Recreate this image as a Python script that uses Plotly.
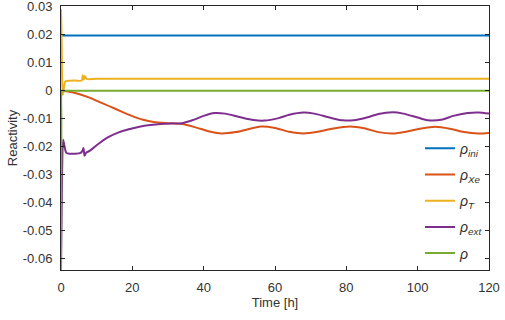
import plotly.graph_objects as go

# ---- data ----
t_ini = [0, 120]
rho_ini = [0.0197, 0.0197]

t_xe = [0, 2, 5, 8, 11, 14, 17, 20, 23, 26, 30, 34, 38, 42, 45, 49, 53, 56, 60, 64, 68, 72, 76,
        81, 85, 89, 93, 97, 101, 105, 109, 113, 117, 120]
rho_xe = [0, -0.0003, -0.0012, -0.0025, -0.0042, -0.0058, -0.0075, -0.0091, -0.0104, -0.0112,
          -0.0116, -0.0119, -0.0132, -0.0147, -0.0153, -0.0148, -0.0136, -0.0128, -0.0133, -0.0147,
          -0.0153, -0.0147, -0.0136, -0.0128, -0.0134, -0.0148, -0.0153, -0.0146, -0.0135, -0.0129,
          -0.0136, -0.0148, -0.0153, -0.0151]

t_T = [0, 0.15, 0.3, 0.5, 0.8, 1.2, 2, 4, 5.8, 6.1, 6.4, 6.7, 7.2, 10, 20, 120]
rho_T = [0.029, 0.020, 0.005, -0.0015, 0.001, 0.0033, 0.0035, 0.0036, 0.0036, 0.0055, 0.0040,
         0.0052, 0.0042, 0.0042, 0.0042, 0.0042]

t_ext = [0, 0.3, 0.6, 1.0, 1.5, 2.5, 4, 5.5, 6.0, 6.3, 6.6, 7, 8, 10, 13, 16, 19, 22, 25, 28, 31,
         34, 37, 40, 43, 46, 50, 54, 57, 61, 64, 68, 71, 75, 79, 82, 86, 89, 93, 96, 100, 103, 107,
         110, 114, 117, 120]
rho_ext = [-0.064, -0.030, -0.0175, -0.020, -0.0222, -0.0225, -0.0225, -0.0222, -0.0215, -0.0205,
           -0.0232, -0.0222, -0.0215, -0.0195, -0.0168, -0.0150, -0.0138, -0.0129, -0.0123, -0.0119,
           -0.0117, -0.0116, -0.0105, -0.0090, -0.0080, -0.0082, -0.0094, -0.0105, -0.0107, -0.0098,
           -0.0086, -0.0078, -0.0082, -0.0095, -0.0106, -0.0106, -0.0095, -0.0083, -0.0077, -0.0082,
           -0.0096, -0.0106, -0.0103, -0.0090, -0.0080, -0.0078, -0.0082]

t_tot = [0, 0.1, 0.3, 1, 120]
rho_tot = [-0.064, -0.010, 0.0, 0.0, 0.0]

x_ticks = [0, 20, 40, 60, 80, 100, 120]
y_ticks = [0.03, 0.02, 0.01, 0, -0.01, -0.02, -0.03, -0.04, -0.05, -0.06]
y_ticktext = ["0.03", "0.02", "0.01", "0", "-0.01", "-0.02", "-0.03", "-0.04", "-0.05", "-0.06"]

series = [
    (t_ini, rho_ini, "<i>ρ</i><sub><i>ini</i></sub>", "#0072BD"),
    (t_xe, rho_xe, "<i>ρ</i><sub><i>Xe</i></sub>", "#D95319"),
    (t_T, rho_T, "<i>ρ</i><sub><i>T</i></sub>", "#EDB120"),
    (t_ext, rho_ext, "<i>ρ</i><sub><i>ext</i></sub>", "#7E2F8E"),
    (t_tot, rho_tot, "<i>ρ</i>", "#77AC30"),
]

fig = go.Figure()
for i, (x, y, name, c) in enumerate(series):
    fig.add_trace(go.Scatter(x=x, y=y, name=name, mode="lines", legendgroup=f"g{i}",
                             line=dict(color=c, width=2, shape="spline", smoothing=0.8)))

txtcol = "#333333"
axcommon = dict(showline=True, linecolor="#262626", linewidth=1, mirror="allticks",
                ticks="inside", ticklen=4, tickcolor="#262626", showgrid=False, zeroline=False,
                automargin=False, ticklabeloverflow="allow",
                tickfont=dict(family="Liberation Sans, Arial", size=13, color=txtcol))

fig.update_layout(
    width=505, height=320,
    margin=dict(l=61, r=16, t=6, b=50),
    paper_bgcolor="white", plot_bgcolor="white",
    font=dict(family="Liberation Sans, Arial", size=13, color=txtcol),
    xaxis=dict(range=[0, 120], tickvals=x_ticks, ticklabelstandoff=5,
               title=dict(text="Time [h]", standoff=4, font=dict(size=13)), **axcommon),
    yaxis=dict(range=[-0.064, 0.0302], tickvals=y_ticks, ticktext=y_ticktext, ticklabelstandoff=5,
               title=dict(text="Reactivity", standoff=2, font=dict(size=13)), **axcommon),
    legend=dict(x=1.0, y=0.005, xanchor="right", yanchor="bottom", bgcolor="rgba(0,0,0,0)",
                font=dict(size=14), itemwidth=30, tracegroupgap=5),
    showlegend=True,
)

fig.write_html("out.html", config={"displayModeBar": False},
               post_script="document.body.style.margin='0px';document.body.style.padding='0px';")
